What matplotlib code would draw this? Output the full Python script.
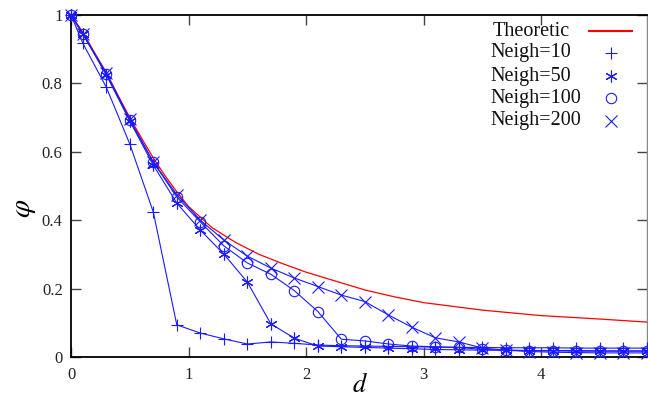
import matplotlib
matplotlib.use("Agg")
import matplotlib.pyplot as plt
from matplotlib.ticker import FormatStrFormatter

# ---- data ----
d = [0, 0.1, 0.3, 0.5, 0.7, 0.9, 1.1, 1.3, 1.5, 1.7, 1.9, 2.1, 2.3, 2.5,
     2.7, 2.9, 3.1, 3.3, 3.5, 3.7, 3.9, 4.1, 4.3, 4.5, 4.7, 4.9]

neigh10 = [1.0, 0.918, 0.789, 0.623, 0.424, 0.094, 0.070, 0.053, 0.038, 0.044,
           0.040, 0.035, 0.033, 0.032, 0.031, 0.030, 0.029, 0.028, 0.028, 0.027,
           0.027, 0.027, 0.026, 0.026, 0.026, 0.026]
neigh50 = [1.0, 0.945, 0.825, 0.690, 0.561, 0.450, 0.371, 0.301, 0.219, 0.097,
           0.055, 0.032, 0.030, 0.028, 0.026, 0.024, 0.022, 0.021, 0.020, 0.020,
           0.019, 0.019, 0.019, 0.018, 0.018, 0.018]
neigh100 = [1.0, 0.945, 0.828, 0.693, 0.570, 0.468, 0.395, 0.325, 0.275, 0.242,
            0.194, 0.133, 0.052, 0.047, 0.038, 0.032, 0.030, 0.028, 0.022, 0.020,
            0.018, 0.018, 0.017, 0.017, 0.017, 0.017]
neigh200 = [1.0, 0.945, 0.830, 0.695, 0.570, 0.475, 0.400, 0.342, 0.295, 0.260,
            0.231, 0.206, 0.181, 0.162, 0.123, 0.087, 0.056, 0.044, 0.026, 0.020,
            0.016, 0.014, 0.013, 0.012, 0.012, 0.012]

theo_d = [0, 0.1, 0.2, 0.3, 0.4, 0.5, 0.6, 0.7, 0.8, 0.9, 1.0, 1.2, 1.4, 1.6,
          1.8, 2.0, 2.25, 2.5, 2.75, 3.0, 3.5, 4.0, 4.5, 4.9]
theo_phi = [1.0, 0.95, 0.89, 0.832, 0.765, 0.70, 0.64, 0.582, 0.53, 0.483,
            0.44, 0.378, 0.335, 0.30, 0.273, 0.248, 0.222, 0.196, 0.176, 0.159,
            0.137, 0.121, 0.111, 0.102]

labels = ["Theoretic", "Neigh=10", "Neigh=50", "Neigh=100", "Neigh=200"]
markers = ["+", (6, 2, 0), "o", "x"]
series = [neigh10, neigh50, neigh100, neigh200]

x_ticks = [0, 1, 2, 3, 4]
y_ticks = [0, 0.2, 0.4, 0.6, 0.8, 1]

# ---- style ----
plt.rcParams["font.family"] = ["Liberation Serif", "DejaVu Serif"]
plt.rcParams["mathtext.fontset"] = "stix"

W, H = 648, 400
fig = plt.figure(figsize=(W / 100, H / 100), dpi=100)
AX_L, AX_R, AX_T, AX_B = 71, 647, 15, 357
ax = fig.add_axes([AX_L / W, (H - AX_B) / H, (AX_R - AX_L) / W, (AX_B - AX_T) / H])


def ax_x(px):
    return (px - AX_L) / (AX_R - AX_L)


def ax_y(py):
    return (AX_B - py) / (AX_B - AX_T)


blue = "#1a1aff"


def msize(m):
    return 7.5 if m == "o" else 8.5


ax.plot(theo_d, theo_phi, color="red", lw=0.9, zorder=3)
for s, m in zip(series, markers):
    ax.plot(d, s, color=blue, lw=0.8, marker=m, markersize=msize(m),
            markerfacecolor="none", markeredgecolor=blue, markeredgewidth=0.8,
            clip_on=False, zorder=4)

ax.set_xlim(0, 4.9)
ax.set_ylim(0, 1)
ax.set_xticks(x_ticks)
ax.set_yticks(y_ticks)
ax.yaxis.set_major_formatter(FormatStrFormatter("%g"))
ax.tick_params(direction="in", length=7, width=1, color="#444444",
               top=True, right=True, labelsize=12, labelcolor="#222222")
ax.tick_params(axis="x", pad=7)
ax.tick_params(axis="y", pad=6)
for side in ["left", "bottom", "top"]:
    ax.spines[side].set_linewidth(1.3)
ax.spines["right"].set_linewidth(1.0)
ax.spines["right"].set_color("#888888")

# partially visible "5" tick label at the right edge (cropped in reference)
fig.text(653 / W, 1 - 372 / H, "5", ha="center", va="center",
         fontsize=12, color="#222222")

xl = ax.set_xlabel(r"$d$", fontsize=19)
xl.set_va("center")
ax.xaxis.set_label_coords(ax_x(360), ax_y(385))
yl = ax.set_ylabel(r"$\varphi$", fontsize=21, rotation=90)
yl.set_va("center")
ax.yaxis.set_label_coords(ax_x(25), ax_y(208))

# ---- key (gnuplot style: text left, sample right) ----
row_py = [31, 53, 76, 98, 121]
text_px = [493, 490, 490, 490, 490]
for lab, py, tx in zip(labels, row_py, text_px):
    ax.text(ax_x(tx), ax_y(py), lab, transform=ax.transAxes, ha="left",
            va="center", fontsize=14.5, color="#111111")
ax.plot([ax_x(589), ax_x(632)], [ax_y(row_py[0])] * 2, transform=ax.transAxes,
        color="red", lw=1.5, clip_on=False)
for m, py in zip(markers, row_py[1:]):
    ax.plot([ax_x(611)], [ax_y(py)], transform=ax.transAxes, ls="none",
            marker=m, markersize=msize(m), markerfacecolor="none",
            markeredgecolor=blue, markeredgewidth=0.8, clip_on=False)

fig.savefig("out.png", dpi=100)
